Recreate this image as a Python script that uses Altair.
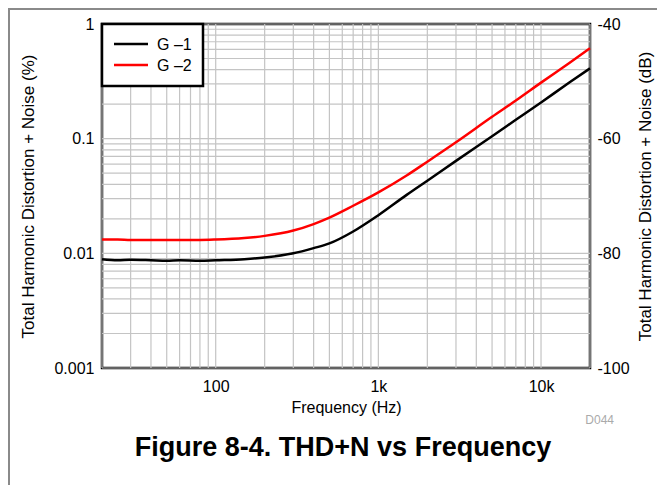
import altair as alt
import pandas as pd

# ---- data ----
freq = [20, 25, 30, 40, 50, 60, 80, 100, 150, 200, 300, 400, 500, 700,
        1000, 1500, 2000, 3000, 5000, 7000, 10000, 15000, 20000]
g1 = [0.0089, 0.0087, 0.0088, 0.0087, 0.0086, 0.0087, 0.0086, 0.0087, 0.0089,
      0.0092, 0.0100, 0.0111, 0.0122, 0.0155, 0.0215, 0.0325, 0.043, 0.064,
      0.105, 0.146, 0.207, 0.31, 0.41]
g2 = [0.0132, 0.0132, 0.0131, 0.0131, 0.0131, 0.0131, 0.0131, 0.0132, 0.0136,
      0.0142, 0.0158, 0.0180, 0.0205, 0.0260, 0.034, 0.048, 0.063, 0.093,
      0.155, 0.215, 0.308, 0.46, 0.615]
series_names = ["G \u20131", "G \u20132"]
series_colors = ["black", "red"]

x_ticks = [100, 1000, 10000]
y_ticks = [0.001, 0.01, 0.1, 1]
db_ticks = [-100, -80, -60, -40]
x_grid = [20, 30, 40, 50, 60, 70, 80, 90,
          100, 200, 300, 400, 500, 600, 700, 800, 900,
          1000, 2000, 3000, 4000, 5000, 6000, 7000, 8000, 9000,
          10000, 20000]
y_grid = [0.001, 0.002, 0.003, 0.004, 0.005, 0.006, 0.007, 0.008, 0.009,
          0.01, 0.02, 0.03, 0.04, 0.05, 0.06, 0.07, 0.08, 0.09,
          0.1, 0.2, 0.3, 0.4, 0.5, 0.6, 0.7, 0.8, 0.9, 1]

FONT = "Liberation Sans"

df = pd.DataFrame({
    "freq": freq * 2,
    "thd": g1 + g2,
    "series": [series_names[0]] * len(freq) + [series_names[1]] * len(freq),
})

xscale = alt.Scale(type="log", domain=[20, 20000], nice=False)
yscale = alt.Scale(type="log", domain=[0.001, 1], nice=False)
dbscale = alt.Scale(domain=[-100, -40], nice=False, zero=False)

x_axis = alt.Axis(
    orient="bottom", values=x_ticks,
    labelExpr="datum.value >= 1000 ? (datum.value/1000) + 'k' : '' + datum.value",
    grid=False, ticks=False, domain=False,
    labelFont=FONT, labelFontSize=16, labelColor="black", labelPadding=10,
    title="Frequency (Hz)", titleFont=FONT, titleFontSize=16,
    titleFontWeight="normal", titleColor="black", titlePadding=5)

grid_color = "#c4c4c4"

gridx = alt.Chart(pd.DataFrame({"v": x_grid})).mark_rule(
    color=grid_color, strokeWidth=1.2).encode(
    x=alt.X("v:Q", scale=xscale, axis=x_axis))

gridy = alt.Chart(pd.DataFrame({"v": y_grid})).mark_rule(
    color=grid_color, strokeWidth=1.2).encode(
    y=alt.Y("v:Q", scale=yscale, axis=None))

lines = alt.Chart(df).mark_line(strokeWidth=2.5, interpolate="monotone").encode(
    x=alt.X("freq:Q", scale=xscale, axis=x_axis),
    y=alt.Y("thd:Q", scale=yscale, axis=alt.Axis(
        orient="left", values=y_ticks, format="~g",
        grid=False, ticks=False, domain=False,
        labelFont=FONT, labelFontSize=16, labelColor="black", labelPadding=8,
        title="Total Harmonic Distortion + Noise (%)", titleFont=FONT,
        titleFontSize=17, titleFontWeight="normal", titleColor="black",
        titlePadding=16)),
    color=alt.Color("series:N", scale=alt.Scale(domain=series_names, range=series_colors),
                    legend=None),
    detail="series:N",
)

db_layer = alt.Chart(df).transform_calculate(
    db="20*log(datum.thd/100)/LN10").mark_line(opacity=0).encode(
    x=alt.X("freq:Q", scale=xscale, axis=x_axis),
    y=alt.Y("db:Q", scale=dbscale, axis=alt.Axis(
        orient="right", values=db_ticks, labelExpr="'' + datum.value",
        grid=False, ticks=False, domain=False,
        labelFont=FONT, labelFontSize=16, labelColor="black", labelPadding=7,
        title="Total Harmonic Distortion + Noise (dB)", titleFont=FONT,
        titleFontSize=17, titleFontWeight="normal", titleColor="black",
        titleAngle=270, titleBaseline="top", titlePadding=8)),
    detail="series:N",
)

one = pd.DataFrame({"a": [0]})

# legend box
leg_box = alt.Chart(one).mark_rect(fill="white", stroke="black", strokeWidth=2.5).encode(
    x=alt.value(0), x2=alt.value(101), y=alt.value(0), y2=alt.value(62))
leg_l1 = alt.Chart(one).mark_rule(color=series_colors[0], strokeWidth=2.5).encode(
    x=alt.value(12), x2=alt.value(46), y=alt.value(20))
leg_l2 = alt.Chart(one).mark_rule(color=series_colors[1], strokeWidth=2.5).encode(
    x=alt.value(12), x2=alt.value(46), y=alt.value(41))
leg_t1 = alt.Chart(one).mark_text(text=series_names[0], align="left", baseline="middle",
                                  font=FONT, fontSize=16, color="black").encode(
    x=alt.value(55), y=alt.value(21))
leg_t2 = alt.Chart(one).mark_text(text=series_names[1], align="left", baseline="middle",
                                  font=FONT, fontSize=16, color="black").encode(
    x=alt.value(55), y=alt.value(42))

# code label and figure caption
code_lbl = alt.Chart(one).mark_text(text="D044", align="right", baseline="alphabetic",
                                    font=FONT, fontSize=12, color="#aaaaaa").encode(
    x=alt.value(512), y=alt.value(400))
caption = alt.Chart(one).mark_text(text="Figure 8-4. THD+N vs Frequency", align="center",
                                   baseline="alphabetic", font=FONT, fontSize=27,
                                   fontWeight="bold", color="black").encode(
    x=alt.value(241), y=alt.value(432))

# outer frame (left and top edges)
frame_left = alt.Chart(one).mark_rule(color="#8a8a8a", strokeWidth=2).encode(
    x=alt.value(-93), y=alt.value(-16), y2=alt.value(470))
frame_top = alt.Chart(one).mark_rule(color="#8a8a8a", strokeWidth=2).encode(
    x=alt.value(-94), x2=alt.value(570), y=alt.value(-15))

chart = alt.layer(
    gridx, gridy, lines, db_layer,
    leg_box, leg_l1, leg_l2, leg_t1, leg_t2,
    code_lbl, caption, frame_left, frame_top,
).resolve_scale(y="independent").properties(
    width=488, height=344,
    autosize=alt.AutoSizeParams(type="none"),
    padding={"left": 94, "top": 16, "right": 67, "bottom": 117},
    background="white",
).configure_view(stroke="black", strokeWidth=2.5)

chart.save("out.html", embed_options={"renderer": "svg", "actions": False})
